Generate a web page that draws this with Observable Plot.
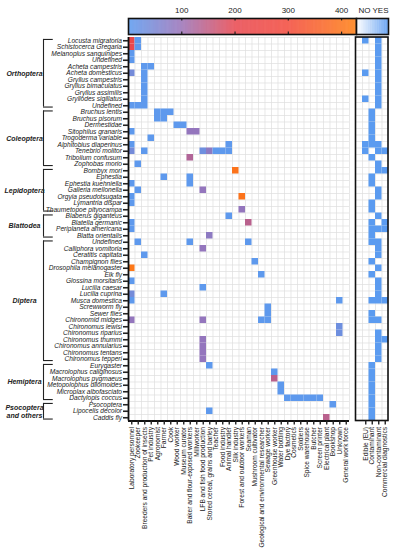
<!DOCTYPE html>
<html><head><meta charset="utf-8">
<script src="https://cdn.jsdelivr.net/npm/d3@7"></script>
<script src="https://cdn.jsdelivr.net/npm/@observablehq/plot@0.6"></script>
<style>
body{margin:0;background:#fff;}
#wrap{position:relative;width:393px;height:550px;overflow:hidden;}
#wrap svg{position:absolute;left:0;top:0;overflow:visible;}
</style></head><body><div id="wrap"></div>
<script>
const FONT = '"Liberation Sans", Arial, sans-serif';

// ---- rows (insects, top to bottom) ----
const insects = [
  "Locusta migratoria","Schistocerca Gregaria","Melanoplus sanguinipes","Undefined",
  "Acheta campestris","Acheta domesticus","Gryllus campestris","Gryllus bimaculatus",
  "Gryllus assimilis","Gryllodes sigillatus","Undefined",
  "Bruchus lentis","Bruchus pisorum","Dermestidae","Sitophilus granaris","Trogoderma variable",
  "Alphitobius diaperinus","Tenebrio molitor","Tribolium confusum","Zophobas morio",
  "Bombyx mori","Ephestia","Ephestia kuehniella","Galleria mellonella","Orgyia pseudotsugata",
  "Lymantria dispar","Thaumetopoe pityocampa",
  "Blaberus giganteus","Blatella germanic","Periplaneta americana","Blatta orientalis",
  "Undefined","Calliphora vomitoria","Ceratitis capitata","Champignon flies","Drosophila melanogaster",
  "Elk fly","Glossina morsitans","Lucilia caesar","Lucilia cuprina","Musca domestica","Screwworm fly",
  "Sewer flies","Chironomid midges","Chironomus lewisi","Chironomus riparius","Chironomus thummi",
  "Chironomus annularius","Chironomus tentans","Chironomus tepperi",
  "Eurygaster","Macrolophus caliginosus","Macrolophus pygmaeus","Metopolophus dilomoides",
  "Microplax albofasciato","Dactylopis coccus",
  "Psocoptera","Lipocelis decolor","Caddis fly"
];

// ---- insect orders (first and last row index) ----
const orderNames = ["Orthoptera","Coleoptera","Lepidoptera","Blattodea","Diptera","Hemiptera","Psocoptera\nand others"];
const orderFirst = [0, 11, 20, 27, 31, 50, 56];
const orderLast  = [10, 19, 26, 30, 49, 55, 58];

// ---- columns (occupations) ----
const occupations = [
  "Laboratory personnel","Zookeeper","Breeders and production of insects","Pet industry","Agronomist",
  "Farmer","Cook","Wood worker","Museum curator","Baker and flour-exposed workers","Millworker",
  "LFB and fish food production","Stored cereal, grains and barley","Teacher","Food industry",
  "Animal handler","Silk industry","Forest and outdoor workers","Seaman","Mushroom cultivator",
  "Geological and environmental researcher","Sewage worker","Greenhouse worker","Water bottling",
  "Dye factory","Cosmetics","Soldiers","Spice warehouse","Butcher","Screen printer",
  "Electrical plant","Bookshop","Unknown","General work force"
];
const panelColumns = ["Edible (EU)","Contaminant","Non-contaminant","Commercial diagnostics"];

// ---- colour bar ----
const scaleTicks = [100, 200, 300, 400];
const scaleMax = 428;
const noYes = ["NO", "YES"];

// ---- exposure values: [row index, occupation, value] ----
const exposure = [
  [0,"Laboratory personnel",230],[0,"Zookeeper",5],
  [1,"Laboratory personnel",200],[1,"Zookeeper",5],
  [2,"Laboratory personnel",5],
  [3,"Laboratory personnel",5],
  [4,"Breeders and production of insects",5],[4,"Pet industry",5],
  [5,"Laboratory personnel",40],[5,"Breeders and production of insects",5],
  [6,"Breeders and production of insects",5],
  [7,"Breeders and production of insects",5],
  [8,"Breeders and production of insects",5],
  [9,"Breeders and production of insects",5],
  [10,"Laboratory personnel",5],[10,"Zookeeper",5],[10,"Breeders and production of insects",5],
  [11,"Agronomist",5],[11,"Farmer",5],[11,"Cook",5],
  [12,"Agronomist",5],[12,"Farmer",5],
  [13,"Wood worker",5],[13,"Museum curator",5],
  [14,"Laboratory personnel",5],[14,"Baker and flour-exposed workers",90],[14,"Millworker",90],
  [15,"Pet industry",5],
  [16,"Laboratory personnel",5],[16,"Animal handler",5],
  [17,"Laboratory personnel",40],[17,"Breeders and production of insects",5],[17,"LFB and fish food production",30],
  [17,"Stored cereal, grains and barley",80],[17,"Teacher",5],[17,"Food industry",5],[17,"Animal handler",5],
  [18,"Baker and flour-exposed workers",130],
  [19,"Zookeeper",5],
  [20,"Silk industry",400],
  [21,"Farmer",5],[21,"Baker and flour-exposed workers",5],
  [22,"Laboratory personnel",5],[22,"Baker and flour-exposed workers",5],
  [23,"Zookeeper",5],[23,"LFB and fish food production",90],
  [24,"Laboratory personnel",5],[24,"Forest and outdoor workers",400],
  [25,"Laboratory personnel",5],
  [26,"Forest and outdoor workers",90],
  [27,"Animal handler",5],
  [28,"Laboratory personnel",5],[28,"Seaman",140],
  [29,"Laboratory personnel",5],
  [30,"Stored cereal, grains and barley",80],
  [31,"Zookeeper",5],[31,"Baker and flour-exposed workers",5],[31,"Seaman",5],
  [32,"LFB and fish food production",90],
  [33,"Breeders and production of insects",5],
  [34,"Mushroom cultivator",5],
  [35,"Laboratory personnel",410],
  [36,"Geological and environmental researcher",5],
  [37,"Laboratory personnel",5],
  [38,"LFB and fish food production",5],
  [39,"Laboratory personnel",40],[39,"Farmer",5],
  [40,"Laboratory personnel",5],[40,"Unknown",5],
  [41,"Sewage worker",5],
  [42,"Sewage worker",5],
  [43,"Laboratory personnel",90],[43,"LFB and fish food production",90],[43,"Geological and environmental researcher",5],[43,"Sewage worker",5],
  [44,"Unknown",30],
  [45,"Unknown",30],
  [46,"LFB and fish food production",90],
  [47,"LFB and fish food production",90],
  [48,"LFB and fish food production",90],
  [49,"LFB and fish food production",90],
  [50,"Stored cereal, grains and barley",5],
  [51,"Greenhouse worker",5],
  [52,"Greenhouse worker",140],
  [53,"Water bottling",5],
  [54,"Water bottling",5],
  [55,"Dye factory",5],[55,"Cosmetics",5],[55,"Soldiers",5],[55,"Spice warehouse",5],[55,"Butcher",5],[55,"Screen printer",5],
  [56,"Bookshop",5],
  [57,"Stored cereal, grains and barley",5],
  [58,"Electrical plant",140]
];

// ---- right panel (YES cells): row indices per column ----
const edibleRows = [0, 5, 9, 16, 17];
const contaminantRows = [11,12,13,14,15,16,18,21,22,25,26,28,29,30,31,34,36,40,42,43,50,51,52,53,54,55,56,57,58];
const nonContaminantRows = [0,1,2,3,4,5,6,7,8,9,10,16,17,19,20,23,24,27,29,31,32,33,35,37,38,39,40,43,45,46,47,48,49];
const diagnosticsRows = [17,20,28,29,40,46];

// ---------------------------------------------------------------
const nR = insects.length, nC = occupations.length;
const panelStart = nC + 2;
const nX = panelStart + panelColumns.length;
const BLUE = "#5b9bf0";
const colorOpts = {type: "linear", domain: [0, 100, 200, 300, scaleMax],
  range: ["#5b9bf0", "#9a72b7", "#e8474f", "#f24a3c", "#ff7f12"], interpolate: "rgb"};

const occIndex = new Map(occupations.map((d, i) => [d, i]));
const cells = exposure.map(([r, occ, v]) => ({r, c: occIndex.get(occ), v}));
const panelCells = [edibleRows, contaminantRows, nonContaminantRows, diagnosticsRows]
  .flatMap((rows, j) => rows.map(r => ({r, c: panelStart + j})));
const orders = orderNames.map((name, i) => ({name, first: orderFirst[i], last: orderLast[i]}));

const GRID = "#dedede";
const main = Plot.plot({
  width: 393, height: 550,
  marginLeft: 128, marginRight: 5, marginTop: 37, marginBottom: 129.5,
  x: {domain: [0, nX]},
  y: {domain: [0, nR], reverse: true},
  color: colorOpts,
  style: {fontFamily: FONT, background: "white", overflow: "visible"},
  marks: [
    Plot.ruleX(d3.range(0, nC + 1), {x: d => d, y1: () => 0, y2: () => nR, stroke: GRID, strokeWidth: 0.7}),
    Plot.ruleY(d3.range(0, nR + 1), {y: d => d, x1: () => 0, x2: () => nC, stroke: GRID, strokeWidth: 0.7}),
    Plot.ruleX(d3.range(panelStart, nX + 1), {x: d => d, y1: () => 0, y2: () => nR, stroke: GRID, strokeWidth: 0.7}),
    Plot.ruleY(d3.range(0, nR + 1), {y: d => d, x1: () => panelStart - 1, x2: () => nX, stroke: GRID, strokeWidth: 0.7}),
    Plot.rect(cells, {x1: d => d.c, x2: d => d.c + 1, y1: d => d.r, y2: d => d.r + 1, fill: "v"}),
    Plot.rect(panelCells, {x1: d => d.c, x2: d => d.c + 1, y1: d => d.r, y2: d => d.r + 1, fill: BLUE}),
    Plot.rect([0], {x1: () => panelStart - 1, x2: () => nX, y1: () => 0, y2: () => nR, fill: "none", stroke: "#111", strokeWidth: 1.6}),
    Plot.ruleX([0], {x: d => d, y1: () => 0, y2: () => nR, stroke: "#111", strokeWidth: 1.8}),
    Plot.ruleY([nR], {y: d => d, x1: () => 0, x2: () => nC, stroke: "#111", strokeWidth: 1.8}),
    Plot.axisY({ticks: insects.map((_, i) => i + 0.5), tickFormat: v => insects[Math.floor(v)],
      anchor: "left", tickSize: 5, tickPadding: 1.5, fontSize: 6.6, fontStyle: "italic",
      strokeWidth: 1.6, color: "#222", label: null}),
    Plot.axisX({ticks: [...occupations.map((_, i) => i + 0.5), ...panelColumns.map((_, j) => panelStart + j + 0.5)],
      tickFormat: v => v < nC ? occupations[Math.floor(v)] : panelColumns[Math.floor(v) - panelStart],
      anchor: "bottom", tickRotate: -90, tickSize: 4, tickPadding: 2, fontSize: 6.6,
      strokeWidth: 1.4, color: "#222", label: null}),
    Plot.ruleX(orders, {x: () => 0, y1: d => d.first + 0.3, y2: d => d.last + 0.7, dx: -85, stroke: "#222", strokeWidth: 1.1}),
    Plot.ruleY(orders, {y: d => d.first + 0.3, x1: () => 0, x2: () => 1.5, dx: -85, stroke: "#222", strokeWidth: 1.1}),
    Plot.ruleY(orders, {y: d => d.last + 0.7, x1: () => 0, x2: () => 1.5, dx: -85, stroke: "#222", strokeWidth: 1.1}),
    Plot.text(orders, {x: () => 0, y: d => (d.first + d.last + 1) / 2, text: "name", dx: -104,
      textAnchor: "middle", fontSize: 7, fontWeight: "bold", fontStyle: "italic", fill: "#222", lineHeight: 1.1})
  ]
});
document.getElementById("wrap").appendChild(main);

const bar = Plot.plot({
  width: 393, height: 37,
  marginLeft: 128, marginRight: 37, marginTop: 18, marginBottom: 3,
  x: {domain: [0, scaleMax]},
  y: {domain: [0, 1], axis: null},
  color: colorOpts,
  style: {fontFamily: FONT, background: "transparent", overflow: "visible"},
  marks: [
    Plot.rect(d3.range(0, scaleMax, 1), {x1: d => d, x2: d => Math.min(scaleMax, d + 1.3), y1: () => 0, y2: () => 1, fill: d => d}),
    Plot.ruleX(scaleTicks, {x: d => d, y1: () => 0, y2: () => 0.15, stroke: "#222", strokeWidth: 1.2}),
    Plot.ruleX(scaleTicks, {x: d => d, y1: () => 0.85, y2: () => 1, stroke: "#222", strokeWidth: 1.2}),
    Plot.frame({stroke: "#111", strokeWidth: 1.6}),
    Plot.axisX({anchor: "top", ticks: scaleTicks, tickSize: 0, tickPadding: 6, fontSize: 8, color: "#222", label: null})
  ]
});
document.getElementById("wrap").appendChild(bar);

const yn = Plot.plot({
  width: 393, height: 37,
  marginLeft: 356, marginRight: 5, marginTop: 18, marginBottom: 3,
  x: {domain: [0, 1]},
  y: {domain: [0, 1], axis: null},
  color: {type: "linear", domain: [0, 1], range: ["#ffffff", BLUE]},
  style: {fontFamily: FONT, background: "transparent", overflow: "visible"},
  marks: [
    Plot.rect(d3.range(0, 1, 0.02), {x1: d => d, x2: d => Math.min(1, d + 0.025), y1: () => 0, y2: () => 1, fill: d => d}),
    Plot.frame({stroke: "#111", strokeWidth: 1.6}),
    Plot.axisX({anchor: "top", ticks: noYes.map((_, i) => (i + 0.5) / 2), tickFormat: v => noYes[Math.floor(v * 2)],
      tickSize: 0, tickPadding: 6, fontSize: 8, color: "#222", label: null})
  ]
});
document.getElementById("wrap").appendChild(yn);
</script></body></html>
